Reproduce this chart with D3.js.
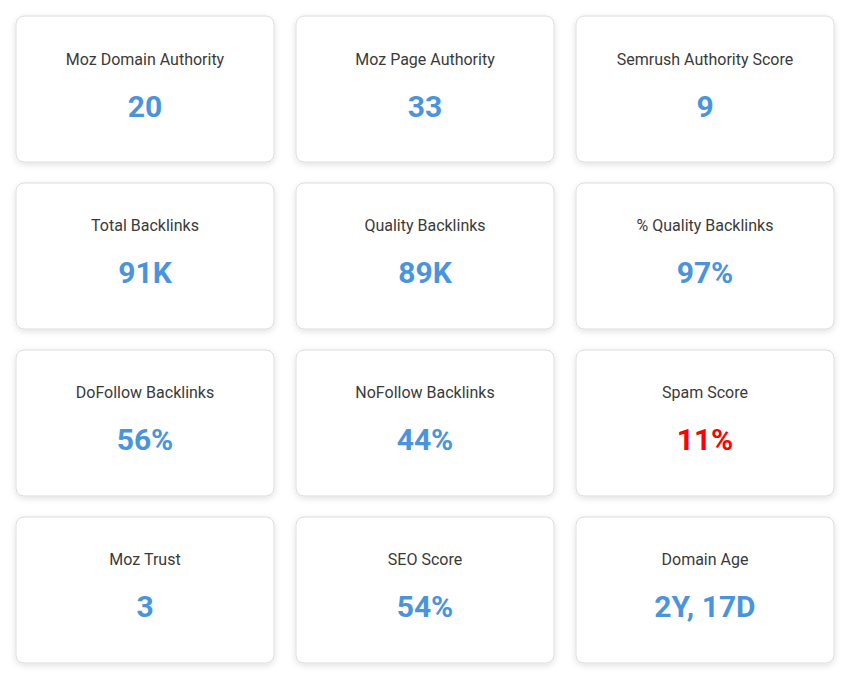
<!DOCTYPE html>
<html>
<head>
<meta charset="utf-8">
<script src="https://cdn.jsdelivr.net/npm/d3@7.9.0/dist/d3.min.js"></script>
<style>
  body { margin: 0; background: #fff; font-family: Roboto, "Noto Sans", sans-serif; }
  svg { display: block; }
</style>
</head>
<body>
<svg id="chart" width="859" height="681"></svg>
<script>
// Metric names, their values and which ones are flagged
const labels = [
  "Moz Domain Authority", "Moz Page Authority", "Semrush Authority Score",
  "Total Backlinks", "Quality Backlinks", "% Quality Backlinks",
  "DoFollow Backlinks", "NoFollow Backlinks", "Spam Score",
  "Moz Trust", "SEO Score", "Domain Age"
];
const values = ["20", "33", "9", "91K", "89K", "97%", "56%", "44%", "11%", "3", "54%", "2Y, 17D"];
const warnings = ["Spam Score"];

const nCols = 3;
const cards = labels.map((label, i) => ({
  label: label,
  value: values[i],
  col: i % nCols,
  row: Math.floor(i / nCols)
}));

const svg = d3.select("#chart");

// Soft shadow under each card
const defs = svg.append("defs");
const filter = defs.append("filter").attr("id", "shadow")
  .attr("x", "-10%").attr("y", "-10%").attr("width", "120%").attr("height", "130%");
filter.append("feDropShadow")
  .attr("dx", 0).attr("dy", 2).attr("stdDeviation", 3)
  .attr("flood-color", "#000").attr("flood-opacity", 0.12);

const x = d3.scaleBand()
  .domain(d3.range(nCols))
  .range([16, 834])
  .paddingInner(0.0786);

const y = d3.scaleBand()
  .domain(d3.range(Math.ceil(cards.length / nCols)))
  .range([16, 663])
  .paddingInner(0.1257);

const card = svg.selectAll("g.card")
  .data(cards)
  .join("g")
  .attr("class", "card")
  .attr("transform", d => `translate(${x(d.col)},${y(d.row)})`);

card.append("rect")
  .attr("width", x.bandwidth())
  .attr("height", y.bandwidth())
  .attr("rx", 8)
  .attr("fill", "#fff")
  .attr("stroke", "#dcdcdc")
  .attr("stroke-width", 1)
  .attr("filter", "url(#shadow)");

card.append("text")
  .attr("x", x.bandwidth() / 2)
  .attr("y", 43)
  .attr("text-anchor", "middle")
  .attr("dominant-baseline", "central")
  .attr("font-size", 16)
  .attr("fill", "#3a3a3a")
  .text(d => d.label);

card.append("text")
  .attr("x", x.bandwidth() / 2)
  .attr("y", 90)
  .attr("text-anchor", "middle")
  .attr("dominant-baseline", "central")
  .attr("font-size", 30)
  .attr("font-weight", "bold")
  .attr("fill", d => warnings.includes(d.label) ? "#ff0000" : "#4a94dc")
  .text(d => d.value);
</script>
</body>
</html>
